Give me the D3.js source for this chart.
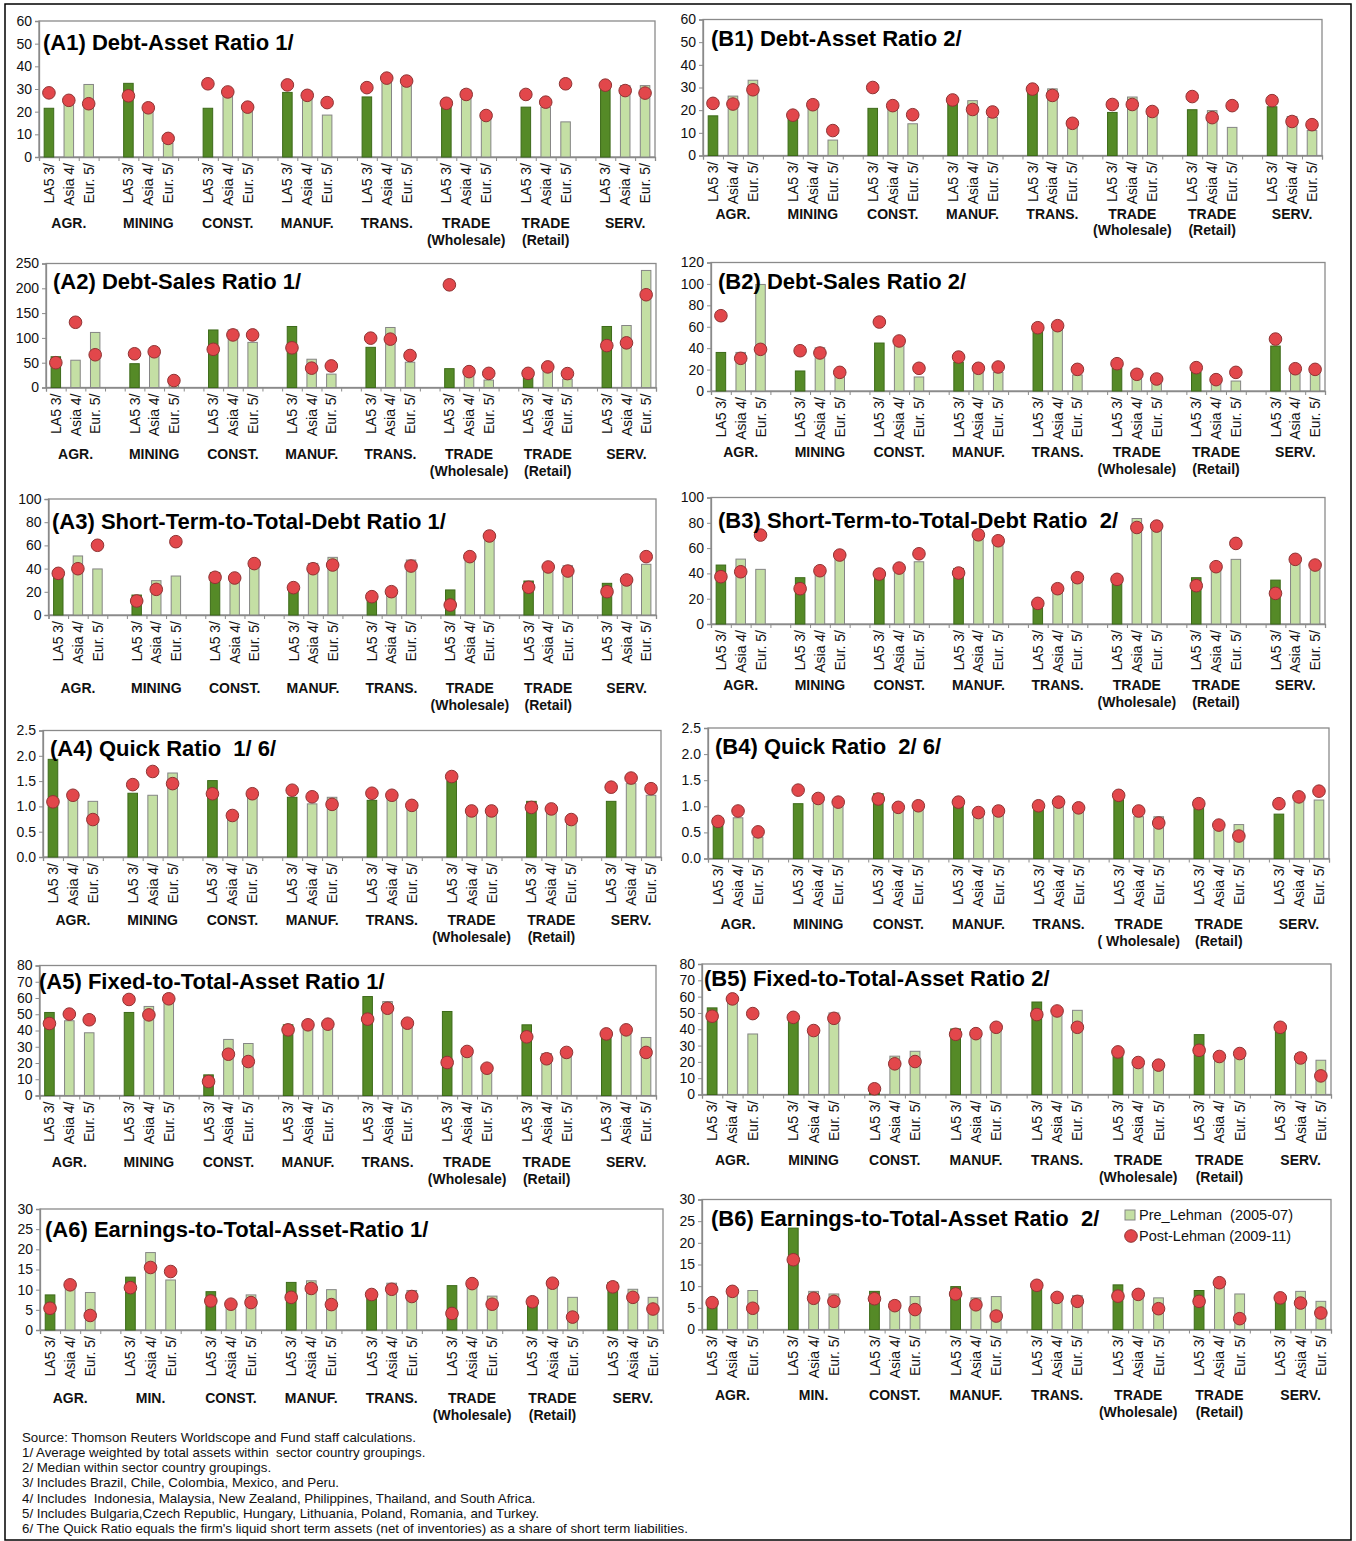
<!DOCTYPE html>
<html>
<head>
<meta charset="utf-8">
<script src="https://cdn.jsdelivr.net/npm/d3@7"></script>
<style>
  body { margin: 0; background: #fff; }
  svg { display: block; font-family: "Liberation Sans", Arial, sans-serif; }
  text { white-space: pre; }
</style>
</head>
<body>
<svg id="fig" width="1356" height="1541"></svg>
<script>
// ---- categories ----
const regions = ["LA5 3/", "Asia 4/", "Eur. 5/"];
const sectors = [["AGR."], ["MINING"], ["CONST."], ["MANUF."], ["TRANS."], ["TRADE", "(Wholesale)"], ["TRADE", "(Retail)"], ["SERV."]];
const sectorsB4 = [["AGR."], ["MINING"], ["CONST."], ["MANUF."], ["TRANS."], ["TRADE", "( Wholesale)"], ["TRADE", "(Retail)"], ["SERV."]];
const sectorsShort = [["AGR."], ["MIN."], ["CONST."], ["MANUF."], ["TRANS."], ["TRADE", "(Wholesale)"], ["TRADE", "(Retail)"], ["SERV."]];
const legendLabels = ["Pre_Lehman  (2005-07)", "Post-Lehman (2009-11)"];

// ---- tick labels ----
const ticks60 = [0, 10, 20, 30, 40, 50, 60];
const ticks250 = [0, 50, 100, 150, 200, 250];
const ticks120 = [0, 20, 40, 60, 80, 100, 120];
const ticks100 = [0, 20, 40, 60, 80, 100];
const ticksQuick = [0, 0.5, 1.0, 1.5, 2.0, 2.5];
const ticks80 = [0, 10, 20, 30, 40, 50, 60, 70, 80];
const ticks30 = [0, 5, 10, 15, 20, 25, 30];

// ---- values: 8 sectors x (LA5, Asia, Eur.) ----
const a1Pre  = [21.5, 24.5, 32,  32.5, 20.5, 6,   21.5, 28, 21,  28.5, 29, 18.5,  26.5, 34, 31.5,  24.5, 29.5, 17.5,  22, 22, 15.5,  32, 31.5, 31.5];
const a1Post = [28.3, 25, 23.5,  27, 21.7, 8.2,  32.3, 28.7, 22,  31.8, 27.2, 24,  30.6, 34.8, 33.5,  23.7, 27.6, 18.3,  27.6, 24.2, 32.3,  31.7, 29.3, 28.2];
const b1Pre  = [17.5, 26.2, 33.2,  17, 21.5, 6.8,  20.8, 21.5, 14,  23.5, 24.2, 16.8,  28.5, 29.4, 12.5,  19, 25.8, 18.5,  20.2, 19.8, 12.4,  21.5, 17.2, 11];
const b1Post = [23, 22.7, 29,  17.8, 22.4, 11,  30, 22, 18,  24.5, 20.3, 19.2,  29.3, 26.5, 14.2,  22.5, 22.5, 19.4,  26, 16.7, 22,  24.2, 15, 13.6];
const a2Pre  = [62, 55, 111,  48, 70, 5,  116, 116, 91,  123, 57, 27,  81, 121, 51,  38, 28, 15,  20, 33, 17,  123, 125, 236];
const a2Post = [50, 131.5, 66,  68, 72, 14,  77, 106, 106,  80, 39, 43.5,  99.5, 97.5, 64.5,  207, 32, 28.5,  28.5, 41.5, 28,  84.5, 90, 187];
const b2Pre  = [36, 36, 99.5,  18.7, 40.4, 13.4,  44.8, 44, 13.1,  27, 18, 17.4,  57, 63, 15,  21, 11.8, 7,  17.4, 6.5, 9.3,  42, 18, 17.4];
const b2Post = [70.3, 30.5, 38.9,  37.6, 35.5, 17.4,  64.4, 46.7, 21.2,  31.7, 21.2, 22.4,  59.1, 61, 20.2,  25.5, 15.6, 11.2,  21.8, 10.6, 17.4,  48.5, 20.8, 20.2];
const a3Pre  = [34.5, 50.9, 39.7,  17.2, 29.6, 33.6,  36.5, 31, 43,  25, 44.5, 49.7,  14.4, 18.7, 47.4,  21.6, 49, 67,  29.3, 43, 42.5,  27.3, 29, 43.7];
const a3Post = [35.9, 39.9, 60.1,  12.1, 22.1, 63.2,  32.5, 31.9, 44.3,  23.6, 39.9, 43.1,  15.8, 20.1, 42.2,  8.6, 50.3, 68.1,  23.9, 41.4, 37.9,  20.1, 30.2, 50.3];
const b3Pre  = [46.6, 51.3, 43.2,  36.6, 41, 53,  38, 47.1, 49.2,  43.9, 69, 64,  15, 26, 35,  33, 83.4, 76,  36.6, 44, 51.1,  34.7, 49, 45];
const b3Post = [37.4, 41.3, 70.3,  27.9, 42.1, 54.5,  39.5, 44.2, 55.5,  40.3, 70.5, 65.8,  16.3, 27.9, 36.6,  35.3, 76.3, 77.4,  30.3, 45.3, 63.7,  24.2, 51.1, 46.6];
const a4Pre  = [1.93, 1.15, 1.1,  1.26, 1.22, 1.66,  1.51, 0.78, 1.22,  1.18, 1.05, 1.18,  1.12, 1.2, 0.97,  1.5, 0.86, 0.87,  1.1, 0.93, 0.7,  1.1, 1.45, 1.22];
const a4Post = [1.09, 1.22, 0.74,  1.43, 1.69, 1.45,  1.25, 0.82, 1.25,  1.32, 1.19, 1.04,  1.26, 1.22, 1.02,  1.59, 0.91, 0.91,  0.98, 0.95, 0.74,  1.38, 1.56, 1.35];
const b4Pre  = [0.64, 0.78, 0.41,  1.05, 1.1, 1.03,  1.24, 0.95, 0.97,  1.02, 0.8, 0.83,  0.92, 1.02, 0.92,  1.15, 0.8, 0.8,  0.99, 0.57, 0.65,  0.85, 1.12, 1.12];
const b4Post = [0.71, 0.91, 0.51,  1.31, 1.15, 1.08,  1.14, 0.98, 1.01,  1.08, 0.88, 0.91,  1.01, 1.08, 0.97,  1.21, 0.91, 0.68,  1.05, 0.64, 0.43,  1.05, 1.18, 1.29];
const a5Pre  = [51.1, 46, 38.6,  51.1, 54.8, 58,  12.7, 34.5, 32,  43.5, 42.5, 42.5,  60.9, 57.8, 43.5,  51.7, 26, 15.5,  43.5, 25.8, 25.5,  37, 39, 35.7];
const a5Post = [44.3, 50.1, 46.6,  59.1, 49.6, 59.5,  8.6, 25.4, 20.9,  40.4, 43.5, 43.9,  47, 53.7, 44.5,  20.3, 27.1, 16.8,  36.1, 22.6, 26.5,  37.9, 40.4, 26.5];
const b5Pre  = [53.1, 58, 37.1,  46, 38, 50,  1, 23.5, 26.5,  40.2, 36.5, 40,  56.7, 52.4, 51.6,  25, 18.5, 17,  36.7, 22.5, 24.5,  40, 25.1, 21];
const b5Post = [48, 58.6, 49.6,  47.3, 39.2, 46.7,  3.5, 18.8, 20.2,  36.9, 37.3, 41.2,  49, 51.2, 41.2,  26.1, 19.6, 18,  27.1, 23.3, 25.1,  41.2, 22.4, 11.4];
const a6Pre  = [8.7, 10.5, 9.3,  13.1, 19.2, 12.4,  9.5, 6, 8.7,  11.8, 12.2, 10,  8.5, 11.6, 9.8,  11, 10.8, 8.4,  6.7, 11, 8.1,  11.8, 10.1, 8.1];
const a6Post = [5.4, 11.2, 3.6,  10.5, 15.5, 14.5,  7.2, 6.4, 6.8,  8.1, 10.3, 6.3,  8.8, 10.1, 8.3,  4.1, 11.5, 6.4,  7, 11.6, 3.2,  10.7, 8.1, 5.2];
const b6Pre  = [5.8, 8.2, 9,  23.4, 8.8, 8.2,  8.8, 6.5, 7.6,  9.9, 7.3, 7.6,  9.8, 7.2, 7.8,  10.3, 7.8, 7.3,  9, 10.2, 8.2,  7, 8.8, 6.5];
const b6Post = [6.2, 8.8, 4.9,  16.1, 7.2, 6.5,  7.1, 5.5, 4.6,  8.2, 5.7, 3.1,  10.2, 7.4, 6.5,  7.7, 8.1, 4.8,  6.5, 10.8, 2.5,  7.3, 6.1, 3.8];

const notes = [
  "Source: Thomson Reuters Worldscope and Fund staff calculations.",
  "1/ Average weighted by total assets within  sector country groupings.",
  "2/ Median within sector country groupings.",
  "3/ Includes Brazil, Chile, Colombia, Mexico, and Peru.",
  "4/ Includes  Indonesia, Malaysia, New Zealand, Philippines, Thailand, and South Africa.",
  "5/ Includes Bulgaria,Czech Republic, Hungary, Lithuania, Poland, Romania, and Turkey.",
  "6/ The Quick Ratio equals the firm's liquid short term assets (net of inventories) as a share of short term liabilities."
];

// ---- styling ----
const DARK = "#558a27", DARK_EDGE = "#3d6a1a";
const LIGHT = "#c4dfa4", LIGHT_EDGE = "#858585";
const DOT = "#e2474b", DOT_EDGE = "#8f3434";
const FRAME = "#8a8a8a";
const fmtInt = d3.format("d"), fmtOne = d3.format(".1f");

// panel layout: plot box edges (L,R), pixel of max value (top) and of zero (zero)
const panels = [
  { title: "(A1) Debt-Asset Ratio 1/", pre: a1Pre, post: a1Post, ticks: ticks60, fmt: fmtInt, sec: sectors,
    L: 39, R: 655, top: 21, zero: 157, tx: 43, ty: 50, sy: 223 },
  { title: "(B1) Debt-Asset Ratio 2/", pre: b1Pre, post: b1Post, ticks: ticks60, fmt: fmtInt, sec: sectors,
    L: 703, R: 1322, top: 19.5, zero: 155.5, tx: 711, ty: 46, sy: 213.5 },
  { title: "(A2) Debt-Sales Ratio 1/", pre: a2Pre, post: a2Post, ticks: ticks250, fmt: fmtInt, sec: sectors,
    L: 46, R: 656, top: 263.5, zero: 387.5, tx: 53, ty: 289, sy: 454 },
  { title: "(B2) Debt-Sales Ratio 2/", pre: b2Pre, post: b2Post, ticks: ticks120, fmt: fmtInt, sec: sectors,
    L: 711, R: 1325, top: 262.5, zero: 391, tx: 718, ty: 289, sy: 452 },
  { title: "(A3) Short-Term-to-Total-Debt Ratio 1/", pre: a3Pre, post: a3Post, ticks: ticks100, fmt: fmtInt, sec: sectors,
    L: 48.5, R: 656, top: 499, zero: 615, tx: 52, ty: 529, sy: 688 },
  { title: "(B3) Short-Term-to-Total-Debt Ratio  2/", pre: b3Pre, post: b3Post, ticks: ticks100, fmt: fmtInt, sec: sectors,
    L: 711, R: 1325, top: 497.5, zero: 624, tx: 718, ty: 528, sy: 685 },
  { title: "(A4) Quick Ratio  1/ 6/", pre: a4Pre, post: a4Post, ticks: ticksQuick, fmt: fmtOne, sec: sectors,
    L: 43, R: 661, top: 730.5, zero: 857, tx: 50, ty: 756, sy: 920 },
  { title: "(B4) Quick Ratio  2/ 6/", pre: b4Pre, post: b4Post, ticks: ticksQuick, fmt: fmtOne, sec: sectorsB4,
    L: 708, R: 1329, top: 728, zero: 858.5, tx: 715, ty: 754, sy: 924 },
  { title: "(A5) Fixed-to-Total-Asset Ratio 1/", pre: a5Pre, post: a5Post, ticks: ticks80, fmt: fmtInt, sec: sectors,
    L: 39.5, R: 656, top: 965.5, zero: 1095.5, tx: 39, ty: 989, sy: 1162 },
  { title: "(B5) Fixed-to-Total-Asset Ratio 2/", pre: b5Pre, post: b5Post, ticks: ticks80, fmt: fmtInt, sec: sectors,
    L: 702, R: 1331, top: 964, zero: 1094.5, tx: 704, ty: 986, sy: 1160 },
  { title: "(A6) Earnings-to-Total-Asset-Ratio 1/", pre: a6Pre, post: a6Post, ticks: ticks30, fmt: fmtInt, sec: sectorsShort,
    L: 40, R: 663, top: 1209, zero: 1330, tx: 45, ty: 1237, sy: 1398 },
  { title: "(B6) Earnings-to-Total-Asset Ratio  2/", pre: b6Pre, post: b6Post, ticks: ticks30, fmt: fmtInt, sec: sectorsShort,
    L: 702, R: 1331, top: 1199.5, zero: 1329.5, tx: 711, ty: 1226, sy: 1395, legend: true }
];

const svg = d3.select("#fig");

// outer frame of the figure
svg.append("rect").attr("x", 5).attr("y", 4).attr("width", 1346).attr("height", 1536)
  .attr("fill", "none").attr("stroke", "#000").attr("stroke-width", 1.5);

const NSLOT = 31; // 8 groups of 3 bars, 1 empty slot between groups

panels.forEach(p => {
  const g = svg.append("g");
  const slotOf = i => Math.floor(i / 3) * 4 + (i % 3);
  const x = d3.scaleBand().domain(d3.range(NSLOT)).range([p.L, p.R]).paddingInner(0.52).paddingOuter(0.26);
  const xEdge = d3.scaleLinear().domain([0, NSLOT]).range([p.L, p.R]);
  const ymax = p.ticks[p.ticks.length - 1];
  const y = d3.scaleLinear().domain([0, ymax]).range([p.zero, p.top]);

  // plot box
  g.append("rect").attr("x", p.L).attr("y", p.top).attr("width", p.R - p.L).attr("height", p.zero - p.top)
    .attr("fill", "#fff").attr("stroke", FRAME).attr("stroke-width", 1.3);

  // y axis
  const ya = g.append("g").attr("transform", `translate(${p.L},0)`)
    .call(d3.axisLeft(y).tickValues(p.ticks).tickFormat(p.fmt).tickSize(4).tickPadding(3));
  ya.select(".domain").attr("stroke", FRAME).attr("stroke-width", 1.3);
  ya.selectAll(".tick line").attr("stroke", FRAME);
  ya.selectAll(".tick text").attr("font-size", 14).attr("fill", "#111")
    .attr("font-family", "'Liberation Sans', Arial, sans-serif");

  // x axis with tick marks between categories
  const xa = g.append("g").attr("transform", `translate(0,${p.zero})`)
    .call(d3.axisBottom(xEdge).tickValues(d3.range(NSLOT + 1)).tickFormat("").tickSize(4));
  xa.select(".domain").attr("stroke", FRAME).attr("stroke-width", 1.3);
  xa.selectAll(".tick line").attr("stroke", FRAME);

  // bars (pre-Lehman)
  g.selectAll("rect.bar").data(p.pre).join("rect").attr("class", "bar")
    .attr("x", (d, i) => x(slotOf(i)))
    .attr("width", x.bandwidth())
    .attr("y", d => y(d))
    .attr("height", d => p.zero - y(d))
    .attr("fill", (d, i) => i % 3 === 0 ? DARK : LIGHT)
    .attr("stroke", (d, i) => i % 3 === 0 ? DARK_EDGE : LIGHT_EDGE)
    .attr("stroke-width", 1);

  // dots (post-Lehman)
  g.selectAll("circle.dot").data(p.post).join("circle").attr("class", "dot")
    .attr("cx", (d, i) => x(slotOf(i)) + x.bandwidth() / 2)
    .attr("cy", d => y(d))
    .attr("r", 6.3)
    .attr("fill", DOT).attr("stroke", DOT_EDGE).attr("stroke-width", 1);

  // rotated region labels
  g.selectAll("text.reg").data(p.pre).join("text").attr("class", "reg")
    .attr("transform", (d, i) => `translate(${x(slotOf(i)) + x.bandwidth() / 2},${p.zero + 6}) rotate(-90)`)
    .attr("text-anchor", "end").attr("dy", "0.36em")
    .attr("font-size", 14).attr("fill", "#111")
    .text((d, i) => regions[i % 3]);

  // sector labels
  p.sec.forEach((lines, k) => {
    const cx = x(k * 4 + 1) + x.bandwidth() / 2;
    lines.forEach((t, j) => {
      g.append("text").attr("x", cx).attr("y", p.sy + 5 + j * 16.5)
        .attr("text-anchor", "middle").attr("font-size", 14).attr("font-weight", "bold")
        .attr("fill", "#111").text(t);
    });
  });

  // panel title
  g.append("text").attr("x", p.tx).attr("y", p.ty)
    .attr("font-size", 22).attr("font-weight", "bold")
    .attr("fill", "#000").text(p.title);

  if (p.legend) {
    const lg = g.append("g");
    lg.append("rect").attr("x", 1125).attr("y", 1210).attr("width", 10).attr("height", 10)
      .attr("fill", LIGHT).attr("stroke", LIGHT_EDGE);
    lg.append("circle").attr("cx", 1131).attr("cy", 1236).attr("r", 6.3)
      .attr("fill", DOT).attr("stroke", DOT_EDGE);
    legendLabels.forEach((t, j) => {
      lg.append("text").attr("x", 1139).attr("y", 1220 + j * 21).attr("font-size", 14.5)
        .attr("fill", "#111").text(t);
    });
  }
});

// footnotes
svg.append("g").selectAll("text").data(notes).join("text")
  .attr("x", 22).attr("y", (d, i) => 1441.5 + i * 15.3)
  .attr("font-size", 13.3).attr("fill", "#111").text(d => d);
</script>
</body>
</html>
